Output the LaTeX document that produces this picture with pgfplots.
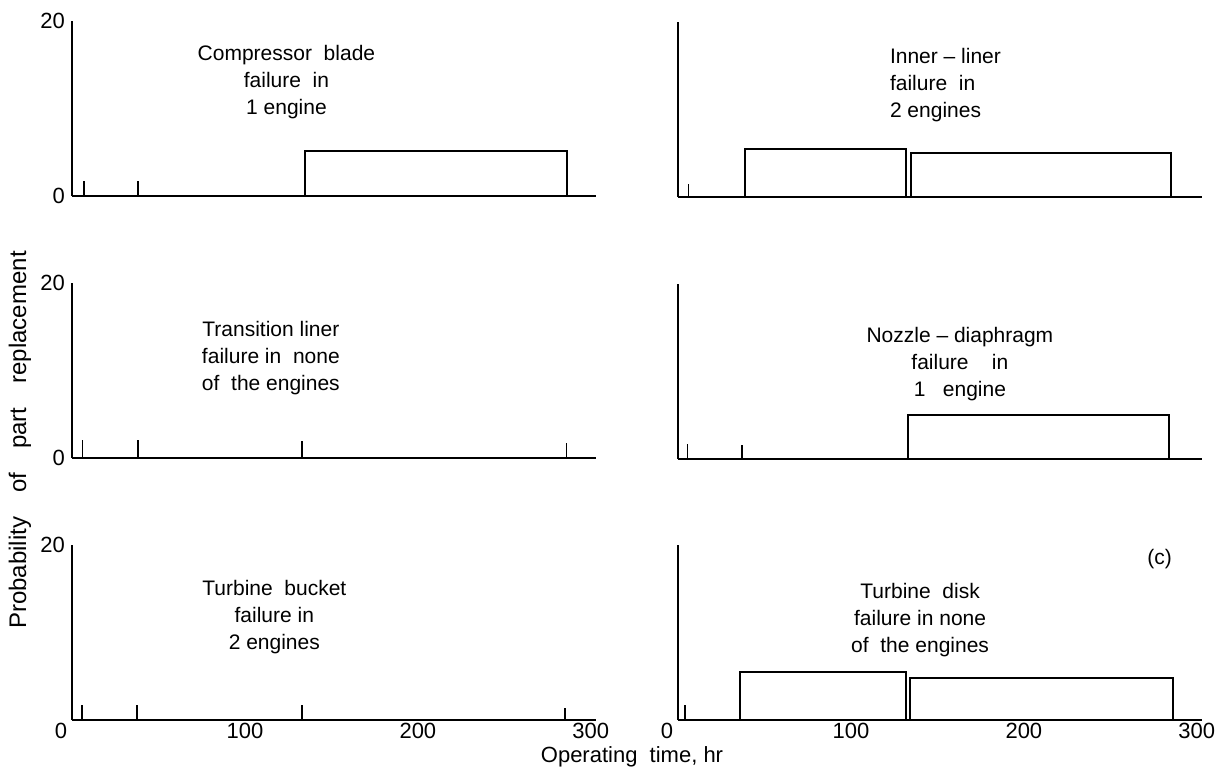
\documentclass[border=0pt]{standalone}
\usepackage{pgfplots}
\pgfplotsset{compat=1.18}
\usepackage{fontspec}
\setmainfont{Liberation Sans}
\begin{document}
\begin{tikzpicture}
\path[use as bounding box] (0,0) rectangle (610.5pt,-386pt);
\tikzset{
  bar/.style={line width=1pt, black},
  spike/.style={line width=0.8pt, black},
  lbl/.style={align=center, font=\fontsize{10.5}{13.5}\selectfont}
}
\pgfplotsset{
  panel/.style={scale only axis, width=262pt, height=87.5pt,
    xmin=0, xmax=303, ymin=0, ymax=20,
    axis x line=bottom, axis y line=left,
    axis line style={-, line width=1pt},
    major tick length=0pt, xtick=\empty, ytick=\empty, clip=false,
    ticklabel style={font=\fontsize{11}{11}\selectfont},
    xticklabel style={yshift=2pt},
    /pgf/number format/assume math mode=true,
    anchor=south west},
  leftpanel/.style={ytick={0,20}},
  bottompanel/.style={xtick={0,100,200,300},
    xticklabels={{\makebox[0pt][r]{0\kern2.5pt}},100,200,300}}
}
% ---------- top left
\begin{axis}[panel, leftpanel, at={(36pt,-98pt)}]
\addplot[spike] coordinates {(7,0) (7,1.7)};
\addplot[spike] coordinates {(38,0) (38,1.7)};
\addplot[bar] coordinates {(135,0) (135,5.2) (286,5.2) (286,0)};
\node[lbl] at (axis cs:124,13.0) {Compressor\ \ blade\\failure\ \ in\\1 engine};
\end{axis}
% ---------- top right
\begin{axis}[panel, at={(339pt,-98.5pt)}]
\addplot[spike] coordinates {(6,0) (6,1.5)};
\addplot[bar] coordinates {(38.5,0) (38.5,5.5) (132,5.5) (132,0)};
\addplot[bar] coordinates {(135,0) (135,5.0) (285,5.0) (285,0)};
\node[lbl, align=left, anchor=west] at (axis cs:118.5,12.8) {Inner -- liner\\failure\ \ in\\2 engines};
\end{axis}
% ---------- middle left
\begin{axis}[panel, leftpanel, at={(36pt,-229pt)}]
\addplot[spike] coordinates {(6,0) (6,2.1)};
\addplot[spike] coordinates {(38,0) (38,2.1)};
\addplot[spike] coordinates {(133,0) (133,1.9)};
\addplot[spike] coordinates {(286,0) (286,1.7)};
\node[lbl] at (axis cs:115,11.4) {Transition liner\\failure in\ \ none\\of\ \ the engines};
\end{axis}
% ---------- middle right
\begin{axis}[panel, at={(339pt,-229.5pt)}]
\addplot[spike] coordinates {(5.6,0) (5.6,1.7)};
\addplot[spike] coordinates {(37,0) (37,1.6)};
\addplot[bar] coordinates {(133,0) (133,5.0) (284,5.0) (284,0)};
\node[lbl] at (axis cs:163,10.9) {Nozzle -- diaphragm\\failure\ \ \ \ in\\1\ \ \ engine};
\end{axis}
% ---------- bottom left
\begin{axis}[panel, ytick={20}, bottompanel, at={(36pt,-360pt)}]
\addplot[spike] coordinates {(5.7,0) (5.7,1.7)};
\addplot[spike] coordinates {(37.5,0) (37.5,1.7)};
\addplot[spike] coordinates {(133,0) (133,1.7)};
\addplot[spike] coordinates {(285,0) (285,1.4)};
\node[lbl] at (axis cs:117,11.8) {Turbine\ \ bucket\\failure in\\2 engines};
\end{axis}
% ---------- bottom right
\begin{axis}[panel, bottompanel, at={(339pt,-360pt)}]
\addplot[spike] coordinates {(4,0) (4,1.7)};
\addplot[bar] coordinates {(36,0) (36,5.5) (132,5.5) (132,0)};
\addplot[bar] coordinates {(134,0) (134,4.85) (286,4.85) (286,0)};
\node[lbl] at (axis cs:140,11.4) {Turbine\ \ disk\\failure in none\\of\ \ the engines};
\node[font=\fontsize{10.5}{10.5}\selectfont] at (axis cs:278.5,18.4) {(c)};
\end{axis}
% ---------- axis titles
\node[rotate=90, font=\fontsize{12}{12}\selectfont] at (10pt,-220pt)
  {Probability\hspace{1em}of\hspace{1em}part\hspace{1em}replacement};
\node[font=\fontsize{11}{11}\selectfont] at (316pt,-378.5pt) {Operating\ \ time, hr};
\end{tikzpicture}
\end{document}
